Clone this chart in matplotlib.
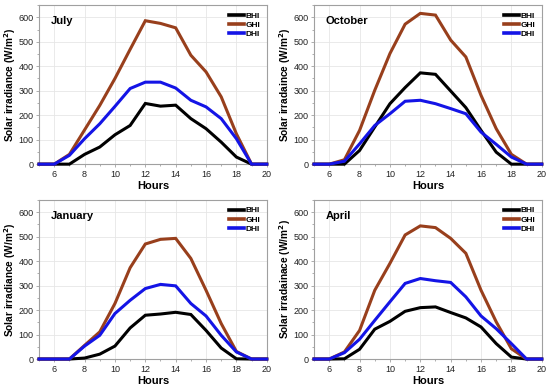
import matplotlib
matplotlib.use("Agg")
import matplotlib.pyplot as plt
from matplotlib.ticker import MultipleLocator

plt.rcParams['font.family'] = ['Liberation Sans', 'DejaVu Sans']
plt.rcParams['mathtext.default'] = 'regular'

hours = [5, 6, 7, 8, 9, 10, 11, 12, 13, 14, 15, 16, 17, 18, 19, 20]

july_bhi = [0, 0, 0, 40, 70, 120, 158, 248, 237, 241, 186, 145, 90, 29, 0, 0]
july_ghi = [0, 0, 40, 140, 240, 350, 469, 586, 575, 557, 445, 377, 275, 124, 0, 0]
july_dhi = [0, 0, 36, 104, 165, 236, 309, 335, 335, 311, 261, 234, 186, 104, 0, 0]

oct_bhi = [0, 0, 0, 56, 152, 247, 313, 373, 367, 299, 231, 138, 49, 0, 0, 0]
oct_ghi = [0, 0, 18, 138, 302, 452, 572, 616, 609, 507, 438, 281, 145, 40, 0, 0]
oct_dhi = [0, 0, 12, 83, 158, 206, 257, 261, 247, 227, 206, 131, 81, 29, 0, 0]

jan_bhi = [0, 0, 0, 4, 20, 53, 127, 179, 184, 191, 182, 117, 45, 1, 0, 0]
jan_ghi = [0, 0, 0, 56, 111, 227, 373, 470, 489, 493, 411, 281, 145, 31, 0, 0]
jan_dhi = [0, 0, 0, 53, 97, 186, 240, 288, 305, 299, 227, 176, 97, 29, 0, 0]

apr_bhi = [0, 0, 1, 40, 122, 154, 195, 210, 213, 190, 168, 131, 63, 8, 0, 0]
apr_ghi = [0, 0, 29, 117, 281, 391, 507, 544, 537, 493, 432, 281, 152, 42, 0, 0]
apr_dhi = [0, 0, 26, 81, 158, 234, 309, 329, 320, 313, 254, 176, 124, 63, 0, 0]

series_names = ["BHI", "GHI", "DHI"]
colors = ["#000000", "#983f1c", "#1414e6"]

panels = [
    ("July", "Solar irradiance (W/m$^{\\mathbf{2}}$)", [july_bhi, july_ghi, july_dhi]),
    ("October", "Solar irradaince (W/m$^{\\mathbf{2}}$)", [oct_bhi, oct_ghi, oct_dhi]),
    ("January", "Solar irradiance (W/m$^{\\mathbf{2}}$)", [jan_bhi, jan_ghi, jan_dhi]),
    ("April", "Solar irradainace (W/m$^{\\mathbf{2}}$)", [apr_bhi, apr_ghi, apr_dhi]),
]

positions = [
    [0.071, 0.578, 0.414, 0.409],
    [0.571, 0.578, 0.414, 0.409],
    [0.071, 0.077, 0.414, 0.409],
    [0.571, 0.077, 0.414, 0.409],
]

fig = plt.figure(figsize=(5.5, 3.89), dpi=100)

for (title, ylabel, data), pos in zip(panels, positions):
    ax = fig.add_axes(pos)
    for name, vals, c in zip(series_names, data, colors):
        ax.plot(hours, vals, color=c, lw=2.2, label=name, clip_on=False, zorder=3,
                solid_joinstyle='miter')
    ax.set_xlim(5, 20)
    ax.set_ylim(0, 650)
    ax.xaxis.set_minor_locator(MultipleLocator(1))
    ax.yaxis.set_major_locator(MultipleLocator(100))
    ax.yaxis.set_minor_locator(MultipleLocator(50))
    ax.set_xticks([6, 8, 10, 12, 14, 16, 18, 20])
    ax.grid(True, which='major', color='#e6e6e6', lw=0.6)
    ax.set_axisbelow(True)
    for s in ax.spines.values():
        s.set_color('#a0a0a0')
        s.set_linewidth(0.8)
    ax.tick_params(which='both', direction='out', colors='#a0a0a0', labelcolor='#222222',
                   labelsize=6.5, length=2.5, width=0.6, pad=1.5)
    ax.tick_params(which='minor', length=1.5)
    ax.set_xlabel("Hours", fontsize=8, fontweight='bold', labelpad=2)
    ax.set_ylabel(ylabel, fontsize=7.3, fontweight='bold')
    ax.yaxis.set_label_coords(-0.092, 0.5)
    ax.text(0.05, 0.93, title, transform=ax.transAxes, fontsize=8, fontweight='bold',
            va='top', ha='left')
    leg = ax.legend(loc='upper right', frameon=False, fontsize=6, handlelength=1.8,
                    handletextpad=0.2, labelspacing=0.15, borderaxespad=0.4)
    for line in leg.get_lines():
        line.set_linewidth(2.6)
    for t in leg.get_texts():
        t.set_fontweight('bold')

fig.savefig("out.png", dpi=100)
